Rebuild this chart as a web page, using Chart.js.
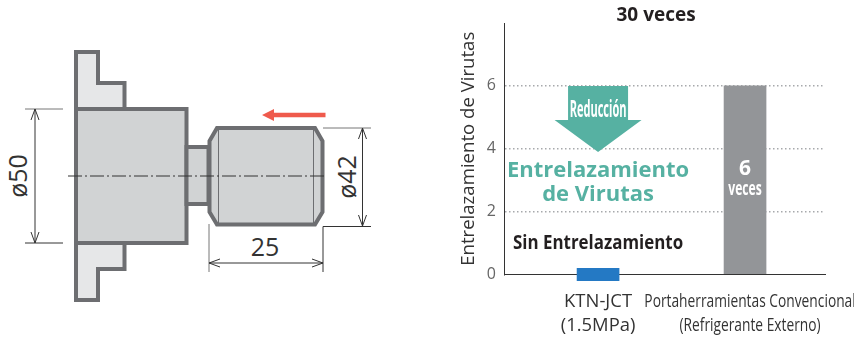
<!DOCTYPE html>
<html>
<head>
<meta charset="utf-8">
<title>Entrelazamiento de Virutas</title>
<script src="https://cdn.jsdelivr.net/npm/chart.js@4"></script>
<style>
  html, body { margin: 0; background: #fff; }
  #wrap { position: relative; width: 854px; height: 340px; overflow: hidden; }
  #part { position: absolute; left: 0; top: 0; }
  #part text { font-family: "Open Sans", sans-serif; font-size: 25px; fill: #333; text-anchor: middle; }
  #chart { position: absolute; left: 440px; top: 0; }
</style>
</head>
<body>
<div id="wrap">
  <svg id="part" width="440" height="340" viewBox="0 0 440 340">
    <g stroke="#6d6e71" stroke-width="4" stroke-linejoin="miter">
      <path fill="#e6e7e8" d="M76 52H98V83H124.5V109H76Z"/>
      <path fill="#e6e7e8" d="M76 243H124.5V269H98V300H76Z"/>
      <rect fill="#d1d3d4" x="76" y="109" width="110.5" height="134"/>
      <rect fill="#d1d3d4" x="186.5" y="147" width="22" height="57"/>
      <path fill="#d1d3d4" d="M209.5 141L217 128H315L322.5 141V212L315 224.5H217L209.5 212Z"/>
    </g>
    <g stroke="#6d6e71" stroke-width="1">
      <path d="M218.5 129V223M313.5 129V223"/>
    </g>
    <path d="M68 176H327" stroke="#333" stroke-width="1" stroke-dasharray="14 3 2 3"/>
    <g fill="none" stroke="#333" stroke-width="1">
      <path d="M25 109H63" stroke="#777"/>
      <path d="M25 243H63"/>
      <path d="M35 109V243M31 120L35 109L39 120M31 232L35 243L39 232"/>
      <path d="M323 128H371" stroke="#777"/>
      <path d="M371 226.5H323V272"/>
      <path d="M362.5 128V226M358.5 139L362.5 128L366.5 139M358.5 215L362.5 226L366.5 215"/>
      <path d="M209 224V272" stroke="#777"/>
      <path d="M209 263H323M220 259L209 263L220 267M312 259L323 263L312 267"/>
    </g>
    <path fill="#ef5a4c" d="M262 115L274 109V112.7H325.5V117.3H274V121Z"/>
    <text transform="translate(27 176) rotate(-90)">ø50</text>
    <text transform="translate(356 177) rotate(-90)">ø42</text>
    <text x="265" y="256">25</text>
  </svg>
  <canvas id="chart" width="414" height="340"></canvas>
</div>

<script>
const barPositions = [1, 2];
const barRanges = [[-0.2, 0.2], [0, 6]];
const barColors = ["#2479c4", "#939598"];
const labelPositions = [1, 2.034];
const xLabels = [
  ["KTN-JCT", "(1.5MPa)"],
  ["Portaherramientas Convencional", "(Refrigerante Externo)"]
];
const xLabelSquash = [0.97, 0.725];
const yTicks = [0, 2, 4, 6];
const yAxisTitle = "Entrelazamiento de Virutas";
const chartTitle = "30 veces";
const arrowFrom = 6;
const arrowTo = 3.9;

const TEAL = "#56b1a2";
const OPEN = '"Open Sans", sans-serif';

// squash narrows the glyphs, the original uses a condensed face here
function label(ctx, text, x, y, font, color, squash = 1) {
  ctx.save();
  ctx.translate(x, y);
  ctx.scale(squash, 1);
  ctx.font = font;
  ctx.fillStyle = color;
  ctx.textAlign = "center";
  ctx.textBaseline = "middle";
  ctx.fillText(text, 0, 0);
  ctx.restore();
}

// arrow and the words inside the plot, plus the x labels
const notes = {
  id: "notes",
  afterDatasetsDraw(chart) {
    const { ctx, scales: { x, y } } = chart;
    const cx = x.getPixelForValue(barPositions[0]);
    const gx = x.getPixelForValue(barPositions[1]);
    const top = y.getPixelForValue(arrowFrom);
    const tip = y.getPixelForValue(arrowTo);

    ctx.save();
    ctx.fillStyle = TEAL;
    ctx.beginPath();
    ctx.moveTo(cx - 30, top);
    ctx.lineTo(cx + 30, top);
    ctx.lineTo(cx + 30, top + 34);
    ctx.lineTo(cx + 43.5, top + 34);
    ctx.lineTo(cx, tip);
    ctx.lineTo(cx - 43.5, top + 34);
    ctx.lineTo(cx - 30, top + 34);
    ctx.closePath();
    ctx.fill();
    ctx.restore();

    label(ctx, chartTitle, cx + 58, 16, `bold 19px ${OPEN}`, "#231f20");
    label(ctx, "Reducción", cx, 110, `bold 23px ${OPEN}`, "#fff", 0.48);
    label(ctx, "Entrelazamiento", cx, 171, `bold 22px ${OPEN}`, TEAL);
    label(ctx, "de Virutas", cx, 195, `bold 22px ${OPEN}`, TEAL);
    label(ctx, "Sin Entrelazamiento", cx, 244, `bold 19px ${OPEN}`, "#231f20", 0.89);
    label(ctx, "6", gx, 169, `bold 21px ${OPEN}`, "#fff");
    label(ctx, "veces", gx, 190, `bold 19px ${OPEN}`, "#fff", 0.64);

    xLabels.forEach((lines, i) => {
      const lx = x.getPixelForValue(labelPositions[i]);
      label(ctx, lines[0], lx, 302, `19px ${OPEN}`, "#333", xLabelSquash[i]);
      label(ctx, lines[1], lx, 326, `19px ${OPEN}`, "#333", xLabelSquash[i]);
    });
  }
};

new Chart(document.getElementById("chart"), {
  type: "bar",
  data: {
    datasets: [{
      data: barPositions.map((x, i) => ({ x, y: barRanges[i] })),
      backgroundColor: barColors,
      barThickness: 42,
      clip: false
    }]
  },
  options: {
    responsive: false,
    animation: false,
    layout: { padding: { top: 23, right: 29 } },
    plugins: { legend: { display: false }, tooltip: { enabled: false } },
    scales: {
      x: {
        type: "linear",
        offset: false,
        min: 0.36,
        max: 2.544,
        afterFit: (s) => { s.height = 65.5; },
        grid: { display: false },
        border: { color: "#333", width: 1 },
        ticks: { display: false }
      },
      y: {
        min: 0,
        max: 8,
        afterFit: (s) => { s.width = 64; },
        afterBuildTicks: (s) => { s.ticks = yTicks.map((value) => ({ value })); },
        title: {
          display: true,
          text: yAxisTitle,
          color: "#333",
          font: { family: OPEN, size: 18.6 },
          padding: { top: 18, bottom: 0 }
        },
        border: { color: "#333", width: 1, dash: [1.5, 2.5] },
        grid: {
          drawTicks: false,
          color: (c) => c.tick.value === 0 ? "transparent" : "#a7a9ac",
          lineWidth: 1.5
        },
        ticks: {
          padding: 8,
          color: "#666",
          font: { family: OPEN, size: 16 },
          callback: (v) => v
        }
      }
    }
  },
  plugins: [notes]
});
</script>
</body>
</html>
